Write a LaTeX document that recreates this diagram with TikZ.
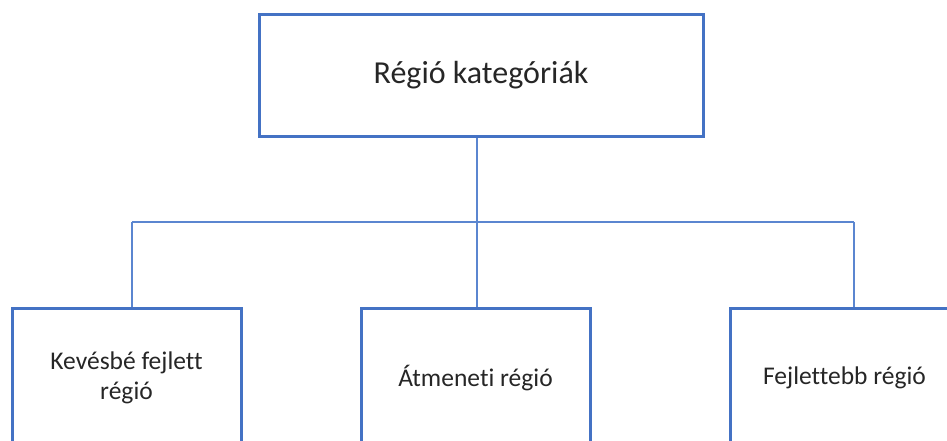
\documentclass[tikz,border=0pt]{standalone}
\usepackage{fontspec}
\setmainfont{Carlito}[Ligatures=NoCommon]
\usepackage{tikz}
\usetikzlibrary{positioning}
\definecolor{boxblue}{HTML}{4472C4}
\definecolor{lineblue}{HTML}{5B86D0}

\tikzset{
  catbox/.style = {draw = boxblue, line width = 3pt, fill = white, align = center,
                   minimum width = 444pt, minimum height = 121pt,
                   font = \fontsize{32}{38}\selectfont, text = black!85},
  regbox/.style = {draw = boxblue, line width = 3pt, fill = white, align = center,
                   minimum width = 229pt, minimum height = 140pt,
                   font = \fontsize{25.5}{30}\selectfont, text = black!85},
  link/.style   = {draw = lineblue, line width = 1.4pt}
}

\begin{document}
\begin{tikzpicture}[x = 1pt, y = -1pt]
    \useasboundingbox (0,0) rectangle (947,441);
    \clip (0,0) rectangle (947,441);

    \node[catbox](categories) at (481,75.5) {Régió kategóriák};

    \node[regbox](lessDeveloped) at (126.5,378) {Kevésbé fejlett\\régió};
    \node[regbox](transition) at (475.5,378) {Átmeneti régió};
    \node[regbox](moreDeveloped) at (844.5,378) {Fejlettebb régió};

    \coordinate (barLeft) at (132,222);
    \coordinate (barRight) at (854,222);

    \draw [link] (barLeft) -- (barRight);
    \draw [link] (categories.south -| 477,0) -- (477,222);
    \draw [link] (477,222) -- (transition.north -| 477,0);
    \draw [link] (barLeft) -- (barLeft |- lessDeveloped.north);
    \draw [link] (barRight) -- (barRight |- moreDeveloped.north);
\end{tikzpicture}
\end{document}
